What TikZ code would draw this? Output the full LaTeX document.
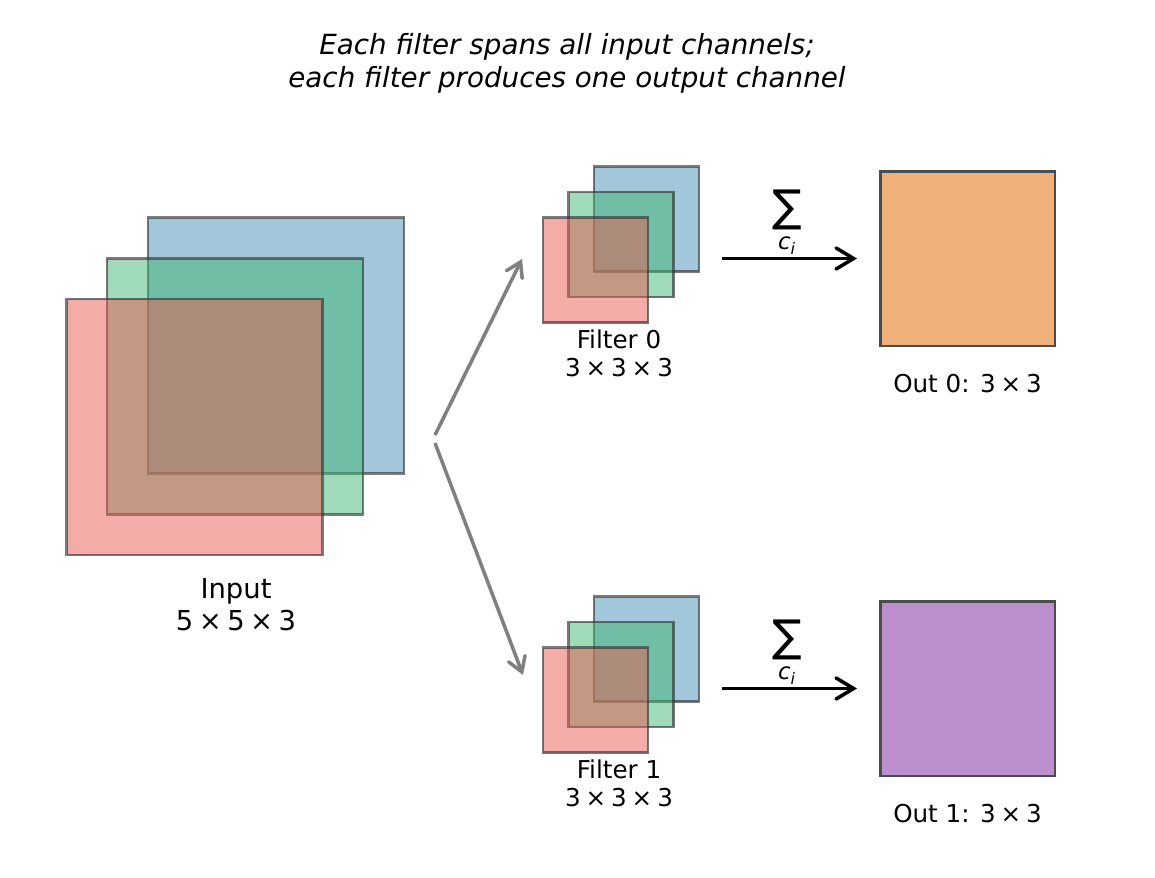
\documentclass[tikz,border=0pt]{standalone}
\usepackage{fontspec}
\setmainfont{DejaVu Sans}
\usetikzlibrary{arrows.meta,positioning}

\definecolor{chred}{RGB}{233,89,81}
\definecolor{chgreen}{RGB}{63,183,115}
\definecolor{chblue}{RGB}{69,143,181}
\definecolor{outorange}{RGB}{240,176,122}
\definecolor{outpurple}{RGB}{187,143,206}

\newcommand{\tms}{\hspace{0.2em}×\hspace{0.2em}}

\begin{document}
\begin{tikzpicture}[x=0.02cm,y=-0.02cm,>=Latex,
    layer/.style={draw=black!80,draw opacity=0.65,fill opacity=0.5,line width=1.6pt,inner sep=0pt,outer sep=0pt},
    bigsq/.style={layer,minimum size=5.12cm},
    smallsq/.style={layer,minimum size=2.1cm},
    outsq/.style={draw=black!70,line width=1.7pt,minimum size=3.5cm,inner sep=0pt,outer sep=0pt},
    lbl/.style={align=center,font=\fontsize{14}{16}\selectfont},
    fan/.style={draw=gray,line width=2pt,-{Straight Barb[length=8pt,width=10pt,line cap=round]}},
    sumarr/.style={draw=black,line width=2pt,-{Straight Barb[length=10pt,width=12pt,line cap=round]}}]
  \useasboundingbox (0,0) rectangle (1155,877);

  % Title
  \node[align=center,font=\fontsize{15.8}{18.7}\selectfont\itshape] (title) at (567,63)
    {Each filter spans all input channels;\\each filter produces one output channel};

  % Input volume: three stacked channels
  \foreach \l/\d/\col in {b/81.5/chblue, g/40.5/chgreen, r/0/chred}
    \node[bigsq,fill=\col] (in\l) at (194.5+\d,427-\d) {};
  \node[align=center,font=\fontsize{15.6}{18.2}\selectfont] (inlbl) at (236,605) {Input\\5\tms 5\tms 3};

  % Filters, sums and outputs
  \foreach \f/\y/\col in {0/270/outorange, 1/700/outpurple} {
    \foreach \l/\d/\fc in {b/51/chblue, g/25.5/chgreen, r/0/chred}
      \node[smallsq,fill=\fc] (f\f\l) at (595.5+\d,\y-\d) {};
    \node[lbl] (f\f lbl) at (619,\y+83) {Filter \f\\3\tms 3\tms 3};
    \node[outsq,fill=\col] (out\f) at (967.5,\y-11.5) {};
    \node[lbl] (out\f lbl) at (967.5,\y+114) {Out \f: 3\tms 3};
    \node[inner sep=0pt,font=\fontsize{25}{25}\selectfont] (sum\f) at (787,\y-60) {∑};
    \node[inner sep=0pt,font=\fontsize{13}{13}\selectfont\itshape] (sub\f) at (787,\y-24) {c\textsubscript{i}};
    \draw[sumarr,shorten <=0.46cm,shorten >=0.46cm] (f\f b.east |- out\f.west) -- (out\f.west);
  }

  % Fan-out arrows from input to filters
  \coordinate (fork0) at (435,435);
  \coordinate (fork1) at (435,443);
  \coordinate (tip0) at (522,259);
  \coordinate (tip1) at (523,675);
  \draw[fan] (fork0) -- (tip0);
  \draw[fan] (fork1) -- (tip1);
\end{tikzpicture}
\end{document}
